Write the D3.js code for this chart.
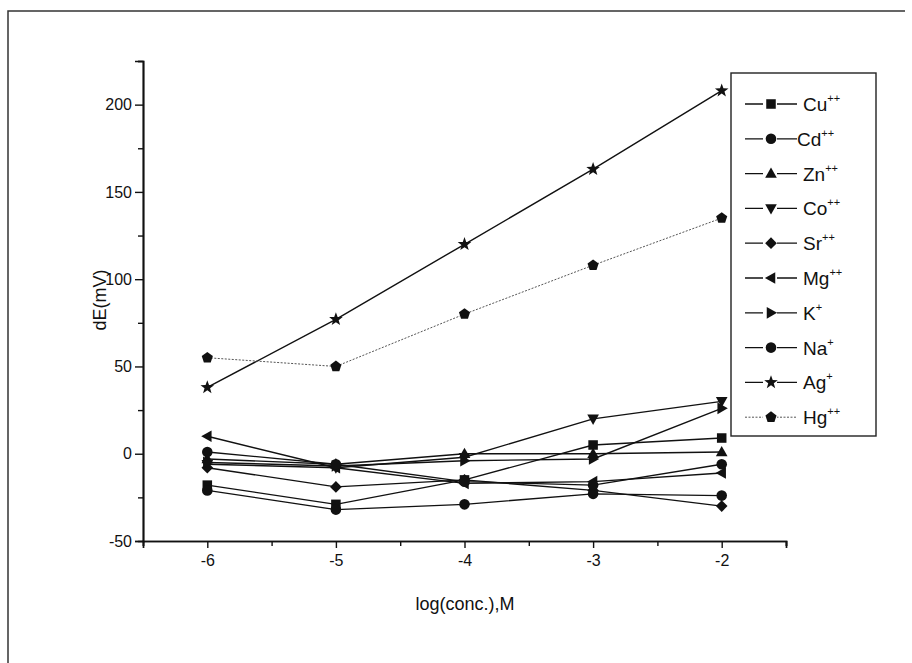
<!DOCTYPE html>
<html>
<head>
<meta charset="utf-8">
<script src="https://cdn.jsdelivr.net/npm/d3@7"></script>
<style>
  body { margin: 0; background: #fff; }
  svg text { font-family: "Liberation Sans", Arial, sans-serif; fill: #111; }
</style>
</head>
<body>
<div id="chart"></div>
<script>
// data
var logConc = [-6, -5, -4, -3, -2];
var ions    = ["Cu", "Cd", "Zn", "Co", "Sr", "Mg", "K", "Na", "Ag", "Hg"];
var charges = ["++", "++", "++", "++", "++", "++", "+", "+", "+", "++"];
var cu = [-18, -29, -15, 5, 9];
var cd = [-21, -32, -29, -23, -24];
var zn = [-3, -6, 0, 0, 1];
var co = [-6, -8, -2, 20, 30];
var sr = [-8, -19, -15, -21, -30];
var mg = [10, -8, -17, -16, -11];
var k  = [-5, -7, -4, -3, 26];
var na = [1, -6, -16, -18, -6];
var ag = [38, 77, 120, 163, 208];
var hg = [55, 50, 80, 108, 135];
var xTicks = [-6, -5, -4, -3, -2];
var yTicks = [-50, 0, 50, 100, 150, 200];

var seriesValues = [cu, cd, zn, co, sr, mg, k, na, ag, hg];
var shapes = ["square", "circle", "up", "down", "diamond", "left", "right", "circle", "star", "pentagon"];

var width = 912, height = 663;

var svg = d3.select("#chart").append("svg")
    .attr("width", width)
    .attr("height", height)

// scanned page frame
svg.append("path")
    .attr("d", "M8,663 L8,11 L905,11")
    .attr("fill", "none")
    .attr("stroke", "#333")
    .attr("stroke-width", 1.5)

var x = d3.scaleLinear().domain([-6.5, -1.5]).range([143, 786]);
var y = d3.scaleLinear().domain([-50, 225]).range([541, 61]);

// axes
svg.append("g").attr("transform", "translate(0," + y(-50) + ")")
    .call(d3.axisBottom(x).tickValues(xTicks).tickSize(7).tickPadding(7).tickFormat(String));
svg.append("g").attr("transform", "translate(0," + y(-50) + ")")
    .call(d3.axisBottom(x).tickValues(d3.range(-6.5, -1.4, 1)).tickSize(5).tickFormat(""));
svg.append("g").attr("transform", "translate(" + x(-6.5) + ",0)")
    .call(d3.axisLeft(y).tickValues(yTicks).tickSize(8).tickPadding(3).tickFormat(String));
svg.append("g").attr("transform", "translate(" + x(-6.5) + ",0)")
    .call(d3.axisLeft(y).tickValues(d3.range(-25, 226, 50)).tickSize(5).tickFormat(""));

svg.selectAll(".domain").attr("stroke", "#111").attr("stroke-width", 1.7)
svg.selectAll(".tick line").attr("stroke", "#111").attr("stroke-width", 1.4)
svg.selectAll(".tick text").attr("font-size", 16).attr("fill", "#111")
    .style("font-family", "'Liberation Sans', Arial, sans-serif")

svg.append("text")
    .attr("x", 465).attr("y", 610)
    .attr("text-anchor", "middle")
    .attr("font-size", 18)
    .text("log(conc.),M")

svg.append("text")
    .attr("transform", "translate(106,300) rotate(-90)")
    .attr("text-anchor", "middle")
    .attr("font-size", 18)
    .text("dE(mV)")

// marker paths
function markerPath(shape, r) {
  var p = d3.path();
  if (shape === "circle") {
    p.arc(0, 0, r, 0, 2 * Math.PI);
  } else if (shape === "square") {
    p.rect(-r * 0.9, -r * 0.9, r * 1.8, r * 1.8);
  } else if (shape === "diamond") {
    p.moveTo(0, -r * 1.1); p.lineTo(r * 1.1, 0); p.lineTo(0, r * 1.1); p.lineTo(-r * 1.1, 0); p.closePath();
  } else if (shape === "star" || shape === "pentagon") {
    var n = shape === "star" ? 10 : 5;
    for (var i = 0; i < n; i++) {
      var a = -Math.PI / 2 + i * 2 * Math.PI / n;
      var rr = (shape === "star" && i % 2) ? r * 0.45 : r * 1.1;
      if (i === 0) p.moveTo(rr * Math.cos(a), rr * Math.sin(a));
      else p.lineTo(rr * Math.cos(a), rr * Math.sin(a));
    }
    p.closePath();
  } else {
    var rot = {up: 0, right: 90, down: 180, left: 270}[shape] * Math.PI / 180;
    var pts = [[0, -r * 1.15], [r * 1.1, r * 0.8], [-r * 1.1, r * 0.8]];
    pts.forEach(function(pt, i) {
      var px = pt[0] * Math.cos(rot) - pt[1] * Math.sin(rot);
      var py = pt[0] * Math.sin(rot) + pt[1] * Math.cos(rot);
      if (i === 0) p.moveTo(px, py); else p.lineTo(px, py);
    });
    p.closePath();
  }
  return p.toString();
}

var line = d3.line()
    .x(function(d, i) { return x(logConc[i]); })
    .y(function(d) { return y(d); })

seriesValues.forEach(function(vals, s) {
  var dotted = ions[s] === "Hg";
  svg.append("path")
    .attr("d", line(vals))
    .attr("fill", "none")
    .attr("stroke", dotted ? "#555" : "#111")
    .attr("stroke-width", dotted ? 1 : 1.4)
    .attr("stroke-dasharray", dotted ? "2,1.5" : null)
})

seriesValues.forEach(function(vals, s) {
  svg.selectAll(".m" + s).data(vals).enter().append("path")
    .attr("class", "m" + s)
    .attr("transform", function(d, i) { return "translate(" + x(logConc[i]) + "," + y(d) + ")"; })
    .attr("d", markerPath(shapes[s], shapes[s] === "star" ? 6.5 : 5.3))
    .attr("fill", "#111")
})

// legend
var legend = svg.append("g")
legend.append("rect")
    .attr("x", 731).attr("y", 73)
    .attr("width", 145).attr("height", 363)
    .attr("fill", "#fff")
    .attr("stroke", "#222")
    .attr("stroke-width", 1.4)

ions.forEach(function(ion, s) {
  var ly = 104 + s * 34.8;
  var dotted = ion === "Hg";
  legend.append("line")
    .attr("x1", 745).attr("x2", 797).attr("y1", ly).attr("y2", ly)
    .attr("stroke", dotted ? "#555" : "#111")
    .attr("stroke-width", dotted ? 1 : 1.3)
    .attr("stroke-dasharray", dotted ? "2,1.5" : null)
  legend.append("rect")
    .attr("x", 763).attr("y", ly - 6).attr("width", 14).attr("height", 12)
    .attr("fill", "#fff")
  legend.append("path")
    .attr("transform", "translate(771," + ly + ")")
    .attr("d", markerPath(shapes[s], shapes[s] === "star" ? 6.5 : 5.3))
    .attr("fill", "#111")
  var t = legend.append("text")
    .attr("x", ion === "Cd" ? 797 : 803).attr("y", ly + 7)
    .attr("font-size", 19)
  t.append("tspan").text(ion)
  t.append("tspan").attr("dy", -9).attr("font-size", 11).text(charges[s])
})
</script>
</body>
</html>
